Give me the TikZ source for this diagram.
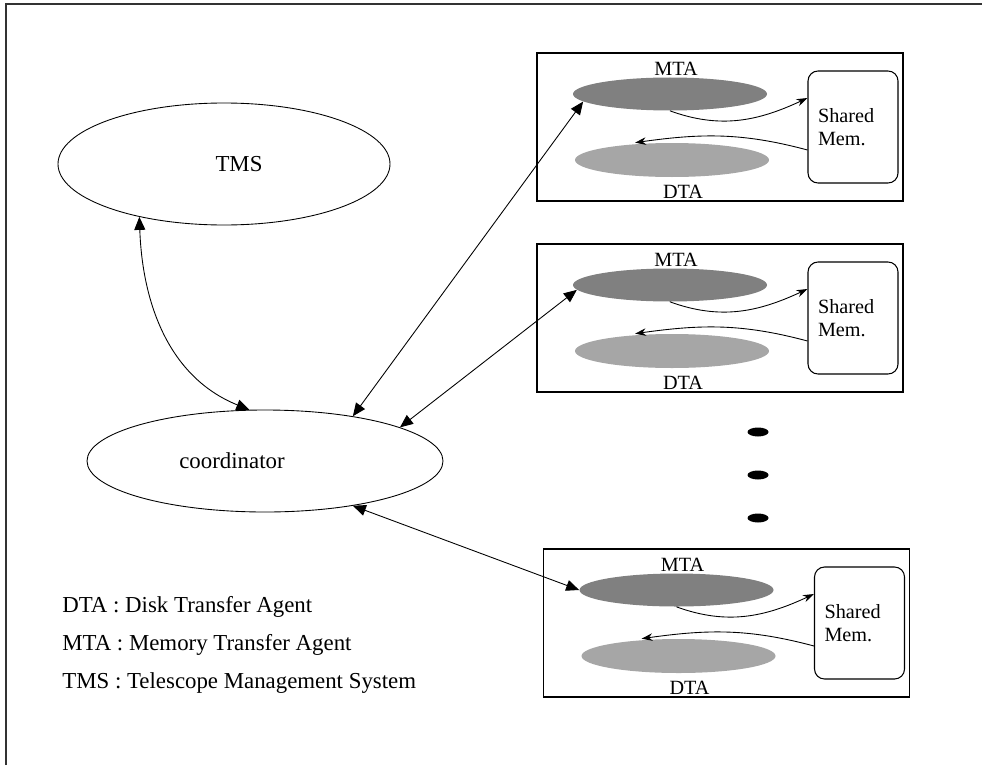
\documentclass[tikz,border=0pt]{standalone}
\usepackage{fontspec}
\setmainfont{Liberation Serif}
\usetikzlibrary{shapes.geometric,arrows.meta,calc}

\begin{document}
\begin{tikzpicture}[
  font=\fontsize{13}{15}\selectfont,
  agent/.style={ellipse, draw, line width=0.5pt, inner sep=0pt},
  tagent/.style={ellipse, inner sep=0pt, minimum width=3.88cm, minimum height=0.66cm},
  hostbox/.style={draw, line width=0.6pt, minimum width=7.32cm, minimum height=2.96cm},
  shmbox/.style={draw, line width=0.6pt, rounded corners=0.2cm, minimum height=2.24cm,
                 text width=1.4cm, inner xsep=0.2cm, align=left, font=\small\fontsize{11.5}{13}\selectfont},
  small/.style={font=\fontsize{11.5}{13}\selectfont},
  link/.style={{Triangle[length=0.26cm,width=0.22cm]}-{Triangle[length=0.26cm,width=0.22cm]}, line width=0.5pt},
  flow/.style={-{Stealth[length=0.22cm,width=0.15cm]}, line width=0.5pt},
  dotmark/.style={ellipse, fill=black, minimum width=0.42cm, minimum height=0.18cm, inner sep=0pt},
]
  \useasboundingbox (0,0) rectangle (19.64,-15.3);
  % outer frame (only top and left edge show)
  \draw[line width=1.1pt, black!80] (0.12,-15.3) |- (19.64,-0.08);

  \node[agent, minimum width=6.64cm, minimum height=2.44cm,
        label={[xshift=0.3cm]center:TMS}] (tms) at (4.48,-3.28) {};
  \node[agent, minimum width=7.12cm, minimum height=2.04cm,
        label={[xshift=-0.66cm]center:coordinator}] (coord) at (5.3,-9.22) {};

  % transfer hosts
  \foreach \n/\x/\y in {1/14.4/-2.54, 2/14.4/-6.36, 3/14.53/-12.46} {
    \node[hostbox] (box\n) at (\x,\y) {};
    \node[tagent, fill=black!50] (mta\n) at ($(box\n.center)+(-1.0,0.66)$) {};
    \node[tagent, fill=black!35, minimum height=0.68cm] (dta\n) at ($(box\n.center)+(-0.96,-0.66)$) {};
    \node[small] (mtalbl\n) at ($(box\n.center)+(-0.88,1.16)$) {MTA};
    \node[small] (dtalbl\n) at ($(box\n.center)+(-0.74,-1.3)$) {DTA};
    \node[shmbox] (shm\n) at ($(box\n.center)+(2.66,0)$) {Shared\\Mem.};
    \draw[flow] (mta\n.south) to[out=-20, in=205] ([yshift=0.58cm]shm\n.west);
    \draw[flow] ([yshift=-0.46cm]shm\n.west) to[out=165, in=8] ([xshift=-0.74cm]dta\n.north);
  }

  % more hosts
  \foreach \i/\y in {1/-8.64, 2/-9.5, 3/-10.36}
    \node[dotmark] (dot\i) at (15.16,\y) {};

  % links
  \draw[link] (tms.212) to[out=-88, in=158] (coord.107);
  \draw[link] (coord.27) -- (mta1.185);
  \draw[link] (coord.14) -- (mta2.183);
  \draw[link] (coord.-27) -- (mta3.west);

  % legend
  \foreach \i/\y/\t in {1/-12.14/DTA : Disk Transfer Agent,
                        2/-12.9/MTA : Memory Transfer Agent,
                        3/-13.66/TMS : Telescope Management System}
    \node[anchor=west, inner sep=0pt] (legend\i) at (1.24,\y) {\t};
\end{tikzpicture}
\end{document}
